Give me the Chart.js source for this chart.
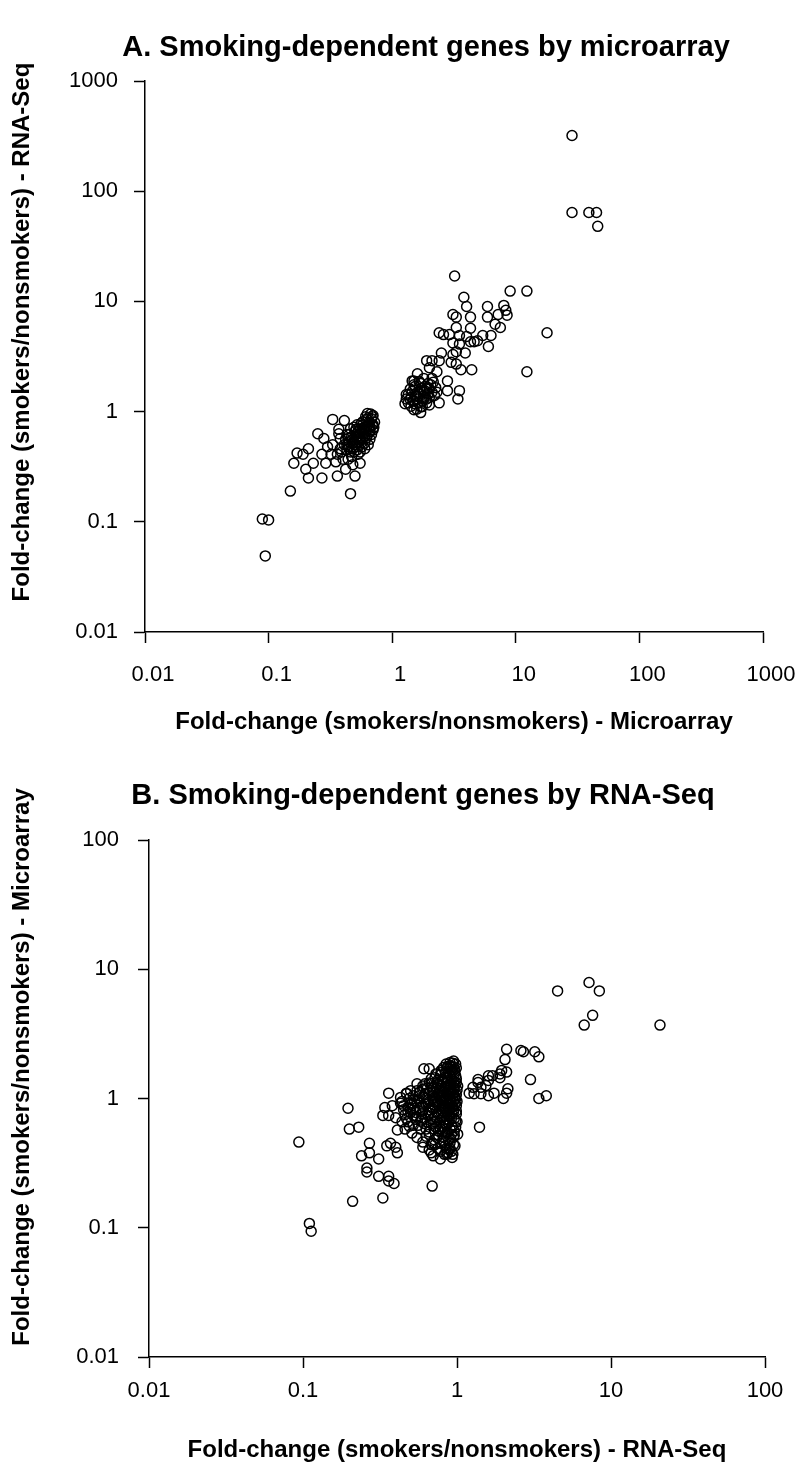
<!DOCTYPE html>
<html lang="en">
<head>
  <meta charset="UTF-8">
  <title>Smoking-dependent genes: microarray vs RNA-Seq</title>
  <script src="https://cdn.jsdelivr.net/npm/chart.js"></script>
  <style>
    body { margin: 0; background: #fff; }
    canvas { display: block; }
  </style>
</head>
<body>
  <canvas id="chartA" width="796" height="740"></canvas>
  <canvas id="chartB" width="796" height="725"></canvas>

  <script>
    // ---- data: [x, y] fold-changes (smokers / nonsmokers) ----
    // A: x = microarray, y = RNA-Seq
    const aHigh = [[28.5,320],[28.5,64],[39,64],[45,64],[46,48]];
    const aUpper = [
      [9.0,12.4],[12.3,12.4],[17.9,5.2],[12.3,2.3],[3.2,17],[3.8,10.9],[4.0,9.0],[5.9,9.0],[8.0,9.2],[8.3,8.3],
      [8.5,7.5],[5.9,7.2],[7.2,7.6],[3.1,7.6],[3.3,7.2],[4.3,7.2],[7.5,5.8],[6.8,6.2],[3.3,5.8],[4.3,5.7],
      [2.4,5.2],[2.6,5.0],[2.9,5.0],[3.5,4.9],[4.0,4.8],[5.4,4.9],[6.3,4.9],[4.9,4.4],[4.3,4.3],[4.6,4.3],
      [3.1,4.2],[3.5,4.1],[6.0,3.9],[3.9,3.4],[2.5,3.4],[3.1,3.3],[3.3,3.5],[1.9,2.9],[2.1,2.9],[2.4,2.9],
      [3.0,2.8],[3.3,2.7],[3.6,2.4],[4.4,2.4]
    ];
    const aMid = [
      [1.5,1.9],[1.7,1.8],[2.0,2.5],[2.1,2.0],[2.3,2.3],[2.8,1.9],[2.8,1.55],[3.5,1.55],[3.4,1.3],[2.4,1.2],
      [2.0,1.15],[1.7,0.98],[1.5,1.04],[1.27,1.18],[1.35,1.43],[1.4,1.6],[1.8,1.5],[2.2,1.4],[1.6,1.3],[1.9,1.3],
      [1.6,2.2],[1.8,2.0],[1.45,1.9],[1.3,1.43],[2.3,1.5],[2.0,1.6],[1.6,1.5],[1.8,1.3],[1.53,1.69],[1.85,1.7],
      [1.6,1.37],[1.4,1.29],[1.95,1.46],[1.53,1.18],[1.75,1.11],
      [1.3,1.3],[1.35,1.2],[1.42,1.35],[1.48,1.25],[1.55,1.4],[1.62,1.2],[1.68,1.45],[1.72,1.62],[1.78,1.38],[1.83,1.55],
      [1.9,1.62],[1.95,1.8],[2.05,1.75],[2.15,1.85],[1.45,1.52],[1.5,1.75],[1.65,1.88],[1.7,1.1],[1.58,1.05],[1.42,1.12],
      [1.9,1.2],[2.1,1.5],[2.25,1.65],[2.0,1.35],[1.75,1.25]
    ];
    const aLow = [
      [0.089,0.106],[0.10,0.104],[0.094,0.049],[0.15,0.19],[0.16,0.34],[0.17,0.42],[0.19,0.41],[0.21,0.46],[0.20,0.30],[0.23,0.34],
      [0.25,0.63],[0.27,0.41],[0.29,0.34],[0.35,0.35],[0.48,0.33],[0.21,0.25],[0.27,0.25],[0.36,0.26],[0.50,0.26],[0.46,0.18],
      [0.33,0.85],[0.41,0.83],[0.63,0.96],[0.69,0.90],[0.70,0.76],[0.37,0.69],[0.32,0.41],[0.33,0.50],[0.38,0.57],[0.43,0.62],
      [0.46,0.70],[0.52,0.76],[0.58,0.81],[0.64,0.50],[0.46,0.43],[0.40,0.37],[0.52,0.53],[0.55,0.63],[0.48,0.46],[0.43,0.50],
      [0.39,0.43],[0.36,0.41],[0.58,0.57],[0.60,0.46],[0.53,0.41],[0.44,0.37],[0.38,0.46],[0.42,0.56],[0.47,0.59],[0.50,0.66],
      [0.64,0.63],[0.66,0.56],[0.62,0.69],[0.66,0.73],[0.57,0.70],[0.51,0.58],[0.45,0.53],[0.37,0.63],[0.30,0.48],[0.28,0.57],
      [0.55,0.34],[0.42,0.30],[0.47,0.48],[0.53,0.48],[0.43,0.45],[0.56,0.52],[0.59,0.63],[0.51,0.69],[0.47,0.39],[0.55,0.43],
      [0.45,0.62],[0.49,0.72],[0.53,0.66],[0.56,0.78],[0.6,0.72],[0.62,0.85],[0.65,0.8],[0.68,0.86],[0.7,0.68],[0.72,0.8],
      [0.48,0.52],[0.51,0.62],[0.54,0.57],[0.57,0.66],[0.6,0.6],[0.63,0.74],[0.66,0.66],[0.69,0.76],[0.61,0.9],[0.67,0.95],
      [0.44,0.48],[0.47,0.55],[0.5,0.5],[0.53,0.6],[0.56,0.55],[0.59,0.68],[0.62,0.58],[0.65,0.7],[0.58,0.76],[0.55,0.7],
      [0.41,0.5],[0.44,0.57],[0.49,0.43],[0.52,0.45],[0.57,0.48],[0.6,0.52],[0.68,0.62],[0.71,0.72],[0.64,0.88],[0.7,0.92]
    ];

    // B: x = RNA-Seq, y = microarray
    const bHigh = [[4.5,6.8],[7.2,7.9],[8.4,6.8],[7.6,4.4],[6.7,3.7],[20.8,3.7]];
    const bRight = [
      [2.1,2.4],[2.05,2.0],[2.1,1.6],[2.6,2.35],[2.7,2.3],[3.2,2.3],[3.4,2.1],[3.0,1.4],[1.9,1.55],[1.6,1.5],
      [1.37,1.4],[3.4,1.0],[3.8,1.05],[1.95,1.65],[1.9,1.45],[1.7,1.5],[1.6,1.38],[1.37,1.33],[1.27,1.22],[1.2,1.1],
      [1.29,1.09],[1.43,1.09],[1.6,1.05],[1.74,1.1],[2.0,1.0],[2.14,1.19],[2.1,1.1],[1.43,1.22],[1.54,1.26],[1.4,0.6]
    ];
    const bLeft = [
      [0.94,1.87],[0.87,1.77],[0.82,1.74],[0.79,1.59],[0.66,1.7],[0.61,1.7],[0.68,1.3],[0.36,1.1],[0.50,1.15],[0.57,1.05],
      [0.47,1.09],[0.34,0.85],[0.38,0.88],[0.43,0.92],[0.33,0.74],[0.36,0.74],[0.40,0.71],[0.196,0.84],[0.20,0.58],[0.23,0.60],
      [0.27,0.45],[0.35,0.43],[0.37,0.45],[0.24,0.36],[0.27,0.38],[0.31,0.34],[0.87,0.38],[0.68,0.38],[0.094,0.46],[0.26,0.29],
      [0.26,0.27],[0.31,0.25],[0.36,0.25],[0.41,0.57],[0.41,0.38],[0.40,0.42],[0.21,0.16],[0.33,0.17],[0.11,0.108],[0.113,0.094],
      [0.69,0.21],[0.36,0.23],[0.39,0.22],[0.44,0.95],[0.46,0.75],[0.48,0.86],[0.43,1.02]
    ];
    const bCore = [
      [0.9,1.8],[0.95,1.75],[0.98,1.85],[0.92,1.68],[0.86,1.72],[0.97,1.62],
      [0.72,1.45],[0.78,1.52],[0.84,1.58],[0.9,1.5],[0.96,1.55],[0.99,1.42],[0.81,1.4],[0.87,1.44],[0.93,1.6],[0.75,1.38],
      [0.6,1.25],[0.66,1.32],[0.7,1.22],[0.75,1.28],[0.8,1.35],[0.85,1.24],[0.9,1.3],[0.95,1.22],[0.99,1.33],[0.64,1.2],
      [0.77,1.2],[0.88,1.38],[0.97,1.27],[0.55,1.3],
      [0.52,1.05],[0.57,1.12],[0.62,1.08],[0.67,1.15],[0.72,1.02],[0.77,1.1],[0.82,1.18],[0.87,1.06],[0.92,1.14],[0.97,1.04],
      [1.0,1.16],[0.6,1.18],[0.7,1.13],[0.8,1.03],[0.9,1.0],[0.95,1.1],[0.47,1.1],
      [0.5,0.9],[0.55,0.95],[0.6,0.87],[0.65,0.98],[0.7,0.9],[0.75,0.94],[0.8,0.86],[0.85,0.97],[0.9,0.9],[0.95,0.95],
      [0.99,0.88],[0.58,0.92],[0.68,0.86],[0.78,0.99],[0.88,0.85],[0.97,0.99],
      [0.5,0.78],[0.55,0.72],[0.6,0.8],[0.65,0.74],[0.7,0.83],[0.75,0.76],[0.8,0.71],[0.85,0.8],[0.9,0.74],[0.95,0.82],
      [0.99,0.76],[0.62,0.7],[0.72,0.72],[0.82,0.84],[0.92,0.7],[0.45,0.82],
      [0.52,0.62],[0.58,0.67],[0.63,0.58],[0.68,0.64],[0.73,0.6],[0.78,0.68],[0.83,0.58],[0.88,0.65],[0.93,0.6],[0.98,0.67],
      [0.66,0.55],[0.76,0.56],[0.86,0.69],[0.96,0.56],[0.48,0.66],
      [0.55,0.5],[0.6,0.46],[0.66,0.53],[0.71,0.48],[0.76,0.52],[0.81,0.47],[0.86,0.54],[0.91,0.49],[0.96,0.52],[0.7,0.45],
      [0.8,0.55],[0.9,0.45],
      [0.6,0.42],[0.66,0.4],[0.72,0.44],[0.78,0.39],[0.84,0.43],[0.9,0.41],[0.95,0.44],
      [0.7,0.36],[0.78,0.34],[0.86,0.37],[0.93,0.35]
    ];
    const bCoreDense = [
      [0.53,0.84],[0.56,0.99],[0.59,0.76],[0.61,1.02],[0.63,0.9],[0.64,0.66],[0.66,1.1],[0.67,0.82],[0.69,0.69],[0.69,1.05],
      [0.71,0.94],[0.71,0.58],[0.73,1.19],[0.73,0.79],[0.74,0.5],[0.74,1.33],[0.76,0.88],[0.76,0.64],[0.77,1.05],[0.78,0.45],
      [0.79,0.78],[0.79,1.25],[0.8,0.93],[0.8,0.6],[0.81,1.12],[0.82,0.5],[0.82,0.72],[0.83,1.45],[0.83,0.88],[0.84,0.64],
      [0.84,1.02],[0.85,0.41],[0.85,1.3],[0.86,0.77],[0.86,0.55],[0.87,1.16],[0.87,0.92],[0.88,0.47],[0.88,1.58],[0.89,0.68],
      [0.89,1.08],[0.9,0.83],[0.9,0.58],[0.91,1.22],[0.91,0.96],[0.92,0.39],[0.92,0.77],[0.93,1.4],[0.93,0.62],[0.94,1.03],
      [0.94,0.87],[0.95,0.5],[0.95,1.3],[0.96,0.7],[0.96,1.18],[0.97,0.43],[0.97,0.91],[0.98,1.5],[0.98,0.6],[0.99,1.07],
      [0.99,0.8],[1.0,0.95],[1.0,0.66],[1.01,1.25],[1.01,0.53],[0.96,1.68],[0.91,1.75],[0.94,0.37],[0.89,0.4],[0.83,0.37],
      [0.75,0.41],[0.68,0.44],[0.63,0.51],[0.58,0.58],[0.54,0.69],[0.51,0.92],[0.49,1.0],[0.55,1.15],[0.62,1.3],[0.68,1.42],
      [0.73,1.55],[0.79,1.65],[0.85,1.85],[0.9,1.9],[0.95,1.95],[0.99,1.72],[0.72,0.66],[0.78,0.58],[0.85,0.62],[0.92,0.53],
      [0.66,0.77],[0.74,0.71],[0.81,0.8],[0.88,0.74],[0.95,0.79],[0.65,0.93],[0.72,0.86],[0.79,0.96],[0.86,0.99],[0.93,0.86],
      [0.7,1.0],[0.77,1.15],[0.84,1.2],[0.91,1.1],[0.98,1.0],[0.75,1.08],[0.82,0.97],[0.89,0.91],[0.96,1.35],[0.88,1.27],
      [0.44,0.66],[0.46,0.58],[0.49,0.61],[0.51,0.54],[0.47,0.7],[0.52,0.74],[0.5,0.83],[0.53,0.95],[0.45,0.88],[0.56,0.62],
      [0.57,0.85],[0.54,0.78],[0.48,0.79],[0.59,0.71],[0.61,0.64]
    ];

    // tick values / labels
    const ticksA = [0.01, 0.1, 1, 10, 100, 1000];
    const labelsA = ['0.01', '0.1', '1', '10', '100', '1000'];
    const ticksB = [0.01, 0.1, 1, 10, 100];
    const labelsB = ['0.01', '0.1', '1', '10', '100'];

    Chart.defaults.font.family = "'Liberation Sans', Arial, sans-serif";
    Chart.defaults.color = '#000';

    // panel title and rotated y-axis title, placed by hand like in the original figure
    const figTextPlugin = {
      id: 'figText',
      afterDraw(chart, args, opts) {
        const ctx = chart.ctx;
        opts.items.forEach(t => {
          ctx.save();
          ctx.translate(t.x, t.y);
          if (t.rotate) ctx.rotate(-Math.PI / 2);
          ctx.font = "bold " + t.size + "px 'Liberation Sans', Arial, sans-serif";
          ctx.fillStyle = '#000';
          ctx.textAlign = 'center';
          ctx.textBaseline = 'middle';
          ctx.fillText(t.text, 0, 0);
          ctx.restore();
        });
      }
    };

    function logAxis(tickVals, labels, pad, fit, labelOffset) {
      return {
        type: 'logarithmic',
        min: tickVals[0],
        max: tickVals[tickVals.length - 1],
        afterBuildTicks: axis => { axis.ticks = tickVals.map(v => ({ value: v })); },
        afterFit: fit,
        ticks: {
          callback: v => labels[tickVals.indexOf(v)],
          font: { size: 22 },
          color: '#000',
          padding: pad,
          labelOffset: labelOffset || 0,
          autoSkip: false,
          maxRotation: 0
        },
        grid: {
          drawOnChartArea: false,
          drawTicks: true,
          tickLength: 11,
          tickWidth: 1.5,
          tickColor: '#000',
          color: '#000'
        },
        border: { display: true, color: '#000', width: 1.5 }
      };
    }

    const toPts = arr => arr.map(p => ({ x: p[0], y: p[1] }));

    function scatter(id, o) {
      const xAxis = logAxis(o.ticks, o.labels, o.xPad, s => {
        s.height = o.xHeight;
        s.paddingLeft = 0;
        s.paddingRight = 0;
      }, o.xLabelOffset);
      xAxis.title = {
        display: true,
        text: o.xTitle,
        font: { size: 24, weight: 'bold' },
        color: '#000',
        padding: { top: 0, bottom: o.xTitlePad }
      };
      const yAxis = logAxis(o.ticks, o.labels, o.yPad, s => { s.width = o.yWidth; });

      return new Chart(document.getElementById(id), {
        type: 'scatter',
        data: {
          datasets: [{
            data: toPts(o.points),
            pointRadius: 5,
            pointHoverRadius: 5,
            pointBorderWidth: 1.5,
            pointBorderColor: '#000',
            pointBackgroundColor: 'rgba(0,0,0,0)',
            showLine: false
          }]
        },
        options: {
          responsive: false,
          animation: false,
          events: [],
          layout: { padding: o.layoutPad },
          scales: { x: xAxis, y: yAxis },
          plugins: {
            legend: { display: false },
            tooltip: { enabled: false },
            figText: {
              items: [
                { text: o.title, x: o.titleX, y: o.titleY, size: 29 },
                { text: o.yTitle, x: 22, y: o.yTitleY, size: 24, rotate: true }
              ]
            }
          }
        },
        plugins: [figTextPlugin]
      });
    }

    scatter('chartA', {
      title: 'A. Smoking-dependent genes by microarray',
      xTitle: 'Fold-change (smokers/nonsmokers) - Microarray',
      yTitle: 'Fold-change (smokers/nonsmokers) - RNA-Seq',
      points: [...aHigh, ...aUpper, ...aMid, ...aLow],
      ticks: ticksA, labels: labelsA,
      layoutPad: { left: 0, right: 33, top: 81, bottom: 0 },
      titleX: 426, titleY: 48,
      yWidth: 145, yPad: 16,
      xHeight: 108, xPad: 19, xTitlePad: 3.6, xLabelOffset: 8,
      yTitleY: 332
    });

    scatter('chartB', {
      title: 'B. Smoking-dependent genes by RNA-Seq',
      xTitle: 'Fold-change (smokers/nonsmokers) - RNA-Seq',
      yTitle: 'Fold-change (smokers/nonsmokers) - Microarray',
      points: [...bHigh, ...bRight, ...bLeft, ...bCore, ...bCoreDense],
      ticks: ticksB, labels: labelsB,
      layoutPad: { left: 0, right: 31, top: 100, bottom: 0 },
      titleX: 423, titleY: 56,
      yWidth: 149, yPad: 19,
      xHeight: 108, xPad: 10, xTitlePad: 0,
      yTitleY: 327
    });
  </script>
</body>
</html>
